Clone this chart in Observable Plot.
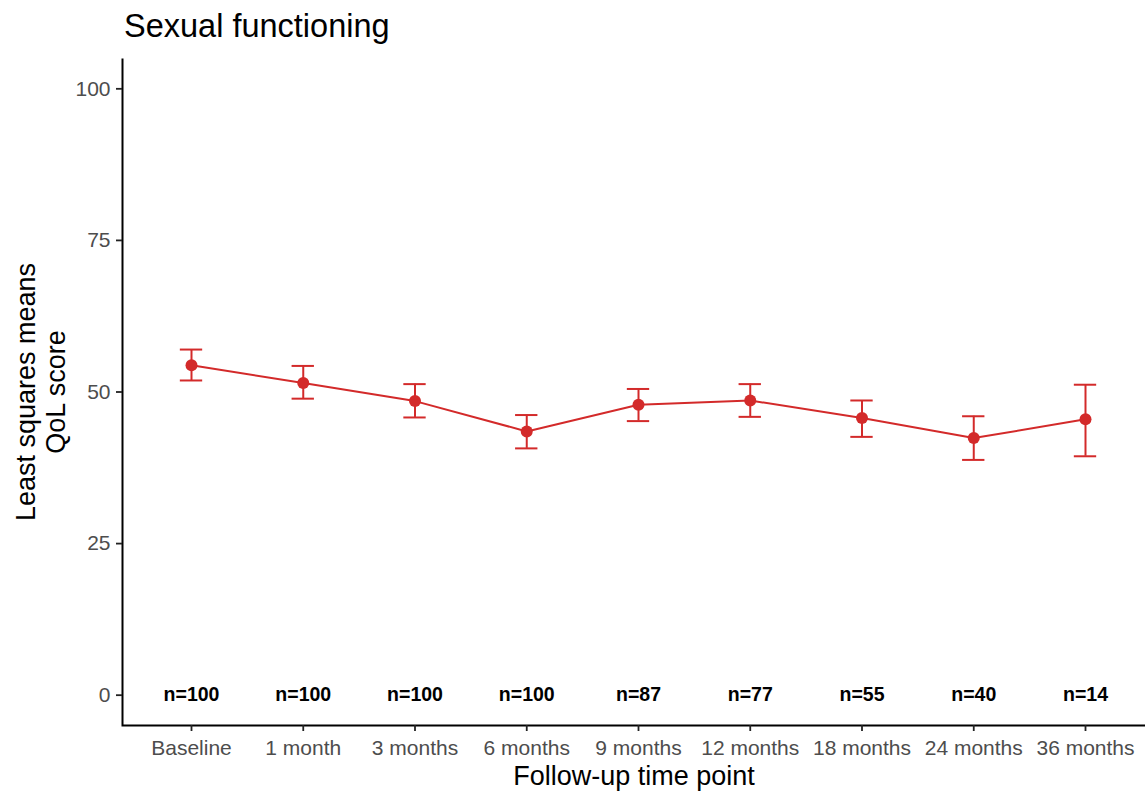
<!DOCTYPE html>
<html>
<head>
<meta charset="utf-8">
<script src="https://cdn.jsdelivr.net/npm/d3@7"></script>
<script src="https://cdn.jsdelivr.net/npm/@observablehq/plot@0.6"></script>
<style>
  html, body { margin: 0; padding: 0; background: white; }
  #title { height: 46px; box-sizing: border-box; padding-top: 10px; padding-left: 124px;
           font-family: "Liberation Sans", Arial, sans-serif; font-size: 32.5px; line-height: 1; color: #000; }
  #chart svg { display: block; }
</style>
</head>
<body>
<div id="title">Sexual functioning</div>
<div id="chart"></div>
<script>
const timepoints = ["Baseline", "1 month", "3 months", "6 months", "9 months", "12 months", "18 months", "24 months", "36 months"];
const lsMeans = [54.4, 51.5, 48.5, 43.5, 47.9, 48.6, 45.7, 42.4, 45.5];
const ciLower = [51.9, 48.9, 45.8, 40.7, 45.2, 45.9, 42.6, 38.8, 39.4];
const ciUpper = [57.0, 54.3, 51.3, 46.2, 50.5, 51.3, 48.6, 46.0, 51.2];
const nLabels = ["n=100", "n=100", "n=100", "n=100", "n=87", "n=77", "n=55", "n=40", "n=14"];
const yTicks = [0, 25, 50, 75, 100];

const data = timepoints.map((t, i) => ({t, m: lsMeans[i], lo: ciLower[i], hi: ciUpper[i], n: nLabels[i]}));
const red = "#d32a2a";

const W = 1145, H = 749, mT = 12, mB = 70, mL = 122, mR = 0;
const fw = W - mL - mR, fh = H - mT - mB;

const chart = Plot.plot({
  width: W, height: H,
  marginTop: mT, marginBottom: mB, marginLeft: mL, marginRight: mR,
  style: {fontFamily: "'Liberation Sans', Arial, sans-serif", fontSize: "21px", background: "white"},
  x: {type: "band", domain: timepoints, range: [135.125, 1140.875], paddingInner: 0.8, paddingOuter: 0.4, align: 0.5, round: false, label: null},
  y: {domain: [-5, 105], label: null},
  marks: [
    // left + bottom axis lines (frame stroked on those two sides only)
    Plot.frame({stroke: "#000", strokeWidth: 2, fill: "none", strokeDasharray: `0 ${fw + fh} ${fw + fh}`}),
    Plot.axisX({tickSize: 6, tickPadding: 9, fontSize: 21, fill: "#4d4d4d", stroke: "#222", strokeWidth: 1.8, label: null}),
    Plot.axisY({ticks: yTicks, tickSize: 6, tickPadding: 6, fontSize: 21, fill: "#4d4d4d", stroke: "#222", strokeWidth: 1.8, label: null}),
    Plot.ruleX(data, {x: "t", y1: "lo", y2: "hi", stroke: red, strokeWidth: 2}),
    Plot.tickY(data, {x: "t", y: "lo", stroke: red, strokeWidth: 2}),
    Plot.tickY(data, {x: "t", y: "hi", stroke: red, strokeWidth: 2}),
    Plot.line(data, {x: "t", y: "m", stroke: red, strokeWidth: 2}),
    Plot.dot(data, {x: "t", y: "m", r: 6, fill: red, stroke: "none"}),
    Plot.text(data, {x: "t", y: () => 0, text: "n", fontWeight: "bold", fontSize: 19.5, fill: "#000"}),
    Plot.text(["Follow-up time point"], {frameAnchor: "bottom", dy: 51, lineAnchor: "middle", textAnchor: "middle", fontSize: 27, fill: "#000"}),
    Plot.text(["Least squares means\nQoL score"], {frameAnchor: "left", rotate: -90, dx: -82, textAnchor: "middle", lineAnchor: "middle", fontSize: 27, lineHeight: 1.1, fill: "#000"})
  ]
});
document.getElementById("chart").appendChild(chart);
</script>
</body>
</html>
